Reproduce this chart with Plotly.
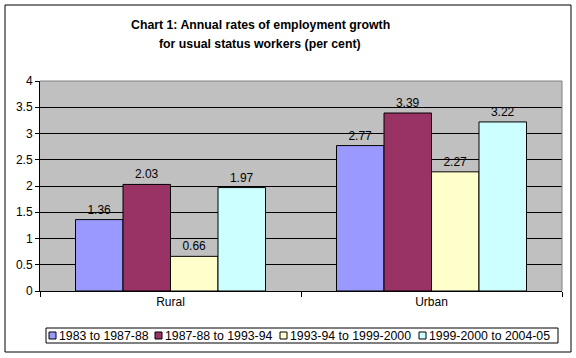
import plotly.graph_objects as go

categories = ["Rural", "Urban"]
series_names = ["1983 to 1987-88", "1987-88 to 1993-94", "1993-94 to 1999-2000", "1999-2000 to 2004-05"]
s1 = [1.36, 2.77]
s2 = [2.03, 3.39]
s3 = [0.66, 2.27]
s4 = [1.97, 3.22]
colors = ["#9999FF", "#993366", "#FFFFCC", "#CCFFFF"]
y_ticks = [0, 0.5, 1, 1.5, 2, 2.5, 3, 3.5, 4]
y_tick_labels = ["0", "0.5", "1", "1.5", "2", "2.5", "3", "3.5", "4"]

W, H = 576, 358
L, R, T, B = 40, 14, 81, 67
pw, ph = W - L - R, H - T - B

def px_x(x):
    return (x - L) / pw

def px_y(y):
    return (H - B - y) / ph

FONT = "Liberation Sans, Arial"

fig = go.Figure()
for name, vals, c in zip(series_names, [s1, s2, s3, s4], colors):
    fig.add_trace(go.Bar(
        x=categories, y=vals, name=name,
        marker=dict(color=c, line=dict(color="black", width=1)),
        text=[f"{v:.2f}" for v in vals], textposition="outside",
        textfont=dict(family=FONT, size=12, color="black"),
        cliponaxis=False,
    ))

shapes = [
    dict(type="rect", xref="paper", yref="paper",
         x0=px_x(5), x1=px_x(571), y0=px_y(352), y1=px_y(5),
         line=dict(color="black", width=1), fillcolor="rgba(0,0,0,0)", layer="below"),
    dict(type="line", xref="paper", yref="paper", x0=0, x1=1, y0=1, y1=1,
         line=dict(color="#808080", width=1)),
    dict(type="line", xref="paper", yref="paper", x0=1, x1=1, y0=0, y1=1,
         line=dict(color="#808080", width=1)),
    # legend box
    dict(type="rect", xref="paper", yref="paper",
         x0=px_x(46), x1=px_x(558), y0=px_y(343), y1=px_y(328),
         line=dict(color="black", width=1), fillcolor="white"),
]

annotations = [
    dict(text="<b>Chart 1: Annual rates of employment growth</b>", xref="paper", yref="paper",
         x=px_x(260), y=px_y(25), xanchor="center", yanchor="middle", showarrow=False,
         font=dict(family=FONT, size=12.3)),
    dict(text="<b>for usual status workers (per cent)</b>", xref="paper", yref="paper",
         x=px_x(260), y=px_y(44), xanchor="center", yanchor="middle", showarrow=False,
         font=dict(family=FONT, size=12.3)),
]

# custom compact legend (Excel style)
leg_sq_x = [49, 155, 280, 419]
leg_cy = 335.5
for name, c, sx in zip(series_names, colors, leg_sq_x):
    shapes.append(dict(type="rect", xref="paper", yref="paper",
                       x0=px_x(sx), x1=px_x(sx + 7), y0=px_y(leg_cy + 3.5), y1=px_y(leg_cy - 3.5),
                       line=dict(color="black", width=1), fillcolor=c))
    annotations.append(dict(text=name, xref="paper", yref="paper",
                            x=px_x(sx + 8), y=px_y(leg_cy), xanchor="left", yanchor="middle",
                            showarrow=False, font=dict(family=FONT, size=12.3, color="black")))

fig.update_layout(
    width=W, height=H,
    margin=dict(l=L, r=R, t=T, b=B, autoexpand=False),
    paper_bgcolor="white", plot_bgcolor="#C0C0C0",
    barmode="group", bargap=0.272, bargroupgap=0,
    font=dict(family=FONT, size=12, color="black"),
    showlegend=False,
    xaxis=dict(
        showline=True, linecolor="black", linewidth=1, mirror=False,
        ticks="outside", ticklen=5, tickcolor="black", tickson="boundaries",
        showgrid=False,
    ),
    yaxis=dict(
        range=[0, 4], tickvals=y_ticks, ticktext=y_tick_labels,
        showline=True, linecolor="black", linewidth=1,
        ticks="outside", ticklen=4, tickcolor="black",
        showgrid=True, gridcolor="black", gridwidth=1, zeroline=False,
    ),
    shapes=shapes,
    annotations=annotations,
)

fig.write_html("out.html", config={"displayModeBar": False},
               post_script="document.body.style.margin='0';document.body.style.overflow='hidden';")
